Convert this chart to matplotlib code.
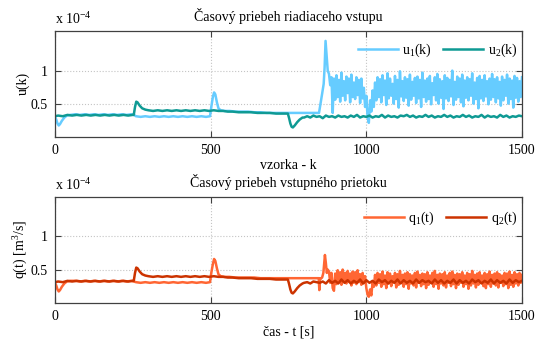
import numpy as np
import matplotlib
matplotlib.use("Agg")
import matplotlib.pyplot as plt

plt.rcParams["font.family"] = "Liberation Serif"
plt.rcParams["mathtext.fontset"] = "custom"
plt.rcParams["mathtext.rm"] = "Liberation Serif"
plt.rcParams["mathtext.it"] = "Liberation Serif:italic"
plt.rcParams["font.size"] = 10

# ---- riadiace vstupy u1, u2 (x 1e-4) ----
u1_k = [0, 4, 8, 12, 16, 22, 30, 38, 50, 65, 80, 95, 110, 125, 140, 155, 170, 185, 200, 215, 230, 245, 253,
        260, 275, 290, 305, 320, 335, 350, 365, 380, 395, 410, 425, 440, 455, 470, 485, 498,
        502, 507, 511, 515, 520, 525, 532, 545,
        560, 580, 600, 620, 640, 660, 680, 700, 720, 740, 760, 780, 800, 820, 840, 848,
        853, 858, 863, 866, 869, 872, 876]
u1_v = [0.30, 0.26, 0.20, 0.17, 0.19, 0.24, 0.29, 0.32, 0.33, 0.34, 0.33, 0.34, 0.33, 0.34, 0.33, 0.34, 0.33, 0.34, 0.33, 0.34, 0.33, 0.34, 0.33,
        0.31, 0.30, 0.31, 0.30, 0.31, 0.30, 0.31, 0.30, 0.31, 0.30, 0.31, 0.30, 0.31, 0.30, 0.31, 0.30, 0.31,
        0.45, 0.60, 0.67, 0.64, 0.52, 0.43, 0.40, 0.39,
        0.39, 0.38, 0.38, 0.38, 0.37, 0.37, 0.36, 0.36, 0.36, 0.36, 0.36, 0.36, 0.36, 0.36, 0.36, 0.36,
        0.50, 0.65, 0.80, 1.05, 1.45, 1.25, 1.00]
# zasumena cast u1, vzorky 880..1500 po 4
u1_noise = [0.95, 0.78, 0.90, 0.36, 0.88, 0.56, 0.93, 0.60, 0.86, 0.53,
            0.97, 0.62, 0.84, 0.55, 0.91, 0.66, 0.88, 0.52, 0.94, 0.60,
            0.82, 0.57, 0.90, 0.63, 0.86, 0.51, 0.88, 0.58, 0.74, 0.45,
            0.62, 0.30, 0.21, 0.55, 0.38, 0.70, 0.45,
            0.82, 0.55, 0.90, 0.60, 0.87, 0.52, 0.93, 0.63, 0.85, 0.48, 0.96, 0.58, 0.88, 0.62, 0.80, 0.50, 0.92, 0.57, 0.86, 0.44,
            0.99, 0.61, 0.84, 0.54, 0.90, 0.59, 0.87, 0.47, 0.94, 0.56, 0.83, 0.62, 0.89, 0.51, 0.91, 0.58, 0.86, 0.45, 0.97, 0.60,
            0.85, 0.53, 0.88, 0.57, 0.92, 0.49, 0.81, 0.63, 0.90, 0.55, 0.95, 0.50, 0.87, 0.59, 0.84, 0.42, 0.93, 0.58, 0.89, 0.54,
            0.86, 0.61, 1.00, 0.48, 0.83, 0.56, 0.91, 0.60, 0.88, 0.52, 0.94, 0.46, 0.85, 0.59, 0.90, 0.55, 0.87, 0.62, 0.96, 0.50,
            0.82, 0.57, 0.89, 0.43, 0.92, 0.58, 0.86, 0.54, 0.93, 0.61, 0.84, 0.49, 0.88, 0.56, 0.95, 0.60, 0.87, 0.52, 0.90, 0.58,
            0.83, 0.47, 0.91, 0.55, 0.86, 0.62, 0.94, 0.50, 0.88, 0.57, 0.85, 0.44, 0.92, 0.59, 0.89, 0.53, 0.84, 0.60, 0.90]

u2_k = [0, 10, 25, 40, 55, 70, 85, 100, 115, 130, 145, 160, 175, 190, 205, 220, 235, 250, 253,
        257, 261, 265, 272, 280, 290, 300,
        315, 330, 345, 360, 375, 390, 405, 420, 435, 450, 465, 480, 495, 510, 525, 540, 555, 570,
        590, 610, 630, 650, 670, 690, 710, 730, 748,
        752, 756, 760, 764, 770, 778, 786, 795]
u2_v = [0.31, 0.32, 0.31, 0.33, 0.32, 0.33, 0.32, 0.33, 0.32, 0.33, 0.32, 0.33, 0.32, 0.33, 0.32, 0.33, 0.32, 0.33, 0.33,
        0.45, 0.53, 0.52, 0.47, 0.43, 0.41, 0.40,
        0.39, 0.40, 0.39, 0.40, 0.39, 0.40, 0.39, 0.40, 0.39, 0.40, 0.39, 0.40, 0.39, 0.40, 0.39, 0.39, 0.38, 0.38,
        0.37, 0.37, 0.37, 0.36, 0.36, 0.36, 0.35, 0.35, 0.35,
        0.28, 0.20, 0.15, 0.14, 0.17, 0.22, 0.26, 0.29]
# u2, vzorky 800..1500 po 10
u2_noise = [0.29, 0.31, 0.29, 0.32, 0.30, 0.31, 0.28, 0.32, 0.30, 0.31,
            0.29, 0.32, 0.30, 0.31, 0.29, 0.32, 0.30, 0.33, 0.29, 0.31,
            0.30, 0.32, 0.29, 0.31, 0.30, 0.33, 0.29, 0.32, 0.30, 0.31,
            0.29, 0.32, 0.31, 0.33, 0.30, 0.32, 0.29, 0.31, 0.30, 0.33,
            0.30, 0.32, 0.29, 0.31, 0.30, 0.33, 0.30, 0.32, 0.29, 0.31,
            0.30, 0.33, 0.30, 0.32, 0.29, 0.31, 0.30, 0.33, 0.29, 0.32,
            0.30, 0.31, 0.29, 0.33, 0.30, 0.32, 0.29, 0.31, 0.30, 0.32, 0.31]

# ---- vstupne prietoky q1, q2 (x 1e-4 m3/s) ----
q1_k = [0, 4, 8, 12, 16, 22, 30, 38, 50, 65, 80, 95, 110, 125, 140, 155, 170, 185, 200, 215, 230, 245, 253,
        260, 275, 290, 305, 320, 335, 350, 365, 380, 395, 410, 425, 440, 455, 470, 485, 498,
        502, 507, 511, 515, 520, 525, 532, 545,
        560, 580, 600, 620, 640, 660, 680, 700, 720, 740, 760, 780, 800, 820, 840, 847,
        849, 851, 853, 858, 862, 865, 867, 870, 873, 876]
q1_v = [0.30, 0.26, 0.20, 0.17, 0.19, 0.24, 0.29, 0.32, 0.33, 0.33, 0.32, 0.33, 0.32, 0.33, 0.32, 0.33, 0.32, 0.33, 0.32, 0.33, 0.32, 0.33, 0.32,
        0.31, 0.30, 0.31, 0.30, 0.31, 0.30, 0.31, 0.30, 0.31, 0.30, 0.31, 0.30, 0.31, 0.30, 0.31, 0.30, 0.31,
        0.45, 0.58, 0.66, 0.63, 0.52, 0.43, 0.40, 0.39,
        0.39, 0.38, 0.38, 0.38, 0.38, 0.37, 0.37, 0.37, 0.37, 0.37, 0.37, 0.37, 0.37, 0.37, 0.37, 0.37,
        0.19, 0.37, 0.36, 0.38, 0.45, 0.62, 0.72, 0.60, 0.45, 0.50]
# zasumena cast q1, vzorky 880..1500 po 4
q1_noise = [0.47, 0.30, 0.45, 0.22, 0.18, 0.44, 0.28, 0.49, 0.31, 0.46,
            0.27, 0.50, 0.33, 0.45, 0.29, 0.48, 0.32, 0.44, 0.26, 0.47,
            0.30, 0.46, 0.28, 0.49, 0.31, 0.43, 0.27, 0.45, 0.30, 0.40,
            0.22, 0.12, 0.09, 0.20, 0.11, 0.30, 0.24,
            0.42, 0.26, 0.45, 0.30, 0.43, 0.24, 0.47, 0.28, 0.41, 0.22, 0.46, 0.29, 0.44, 0.25, 0.40, 0.31, 0.45, 0.23, 0.43, 0.27,
            0.48, 0.30, 0.42, 0.24, 0.44, 0.28, 0.46, 0.21, 0.43, 0.29, 0.41, 0.26, 0.45, 0.23, 0.47, 0.30, 0.42, 0.25, 0.44, 0.28,
            0.43, 0.22, 0.46, 0.27, 0.41, 0.30, 0.45, 0.24, 0.48, 0.28, 0.42, 0.21, 0.44, 0.29, 0.43, 0.26, 0.46, 0.23, 0.41, 0.30,
            0.45, 0.25, 0.47, 0.28, 0.42, 0.22, 0.44, 0.27, 0.43, 0.30, 0.46, 0.24, 0.41, 0.28, 0.45, 0.21, 0.43, 0.26, 0.48, 0.29,
            0.42, 0.23, 0.44, 0.27, 0.46, 0.30, 0.41, 0.25, 0.45, 0.22, 0.43, 0.28, 0.47, 0.24, 0.42, 0.29, 0.44, 0.26, 0.46, 0.23,
            0.43, 0.30, 0.41, 0.25, 0.45, 0.28, 0.44, 0.22, 0.47, 0.27, 0.42, 0.24, 0.46, 0.29, 0.43, 0.26, 0.45, 0.30, 0.42]

q2_k = u2_k
q2_v = [0.31, 0.32, 0.31, 0.33, 0.32, 0.33, 0.32, 0.33, 0.32, 0.33, 0.32, 0.33, 0.32, 0.33, 0.32, 0.33, 0.32, 0.33, 0.33,
        0.45, 0.53, 0.52, 0.47, 0.43, 0.41, 0.40,
        0.39, 0.40, 0.39, 0.40, 0.39, 0.40, 0.39, 0.40, 0.39, 0.40, 0.39, 0.40, 0.39, 0.40, 0.39, 0.39, 0.38, 0.38,
        0.37, 0.37, 0.37, 0.36, 0.36, 0.36, 0.35, 0.35, 0.35,
        0.28, 0.20, 0.15, 0.14, 0.17, 0.22, 0.26, 0.29]
# q2, vzorky 800..1500 po 10
q2_noise = [0.30, 0.31, 0.29, 0.32, 0.31, 0.30, 0.32, 0.29, 0.34, 0.30,
            0.33, 0.29, 0.35, 0.30, 0.34, 0.29, 0.33, 0.30, 0.35, 0.29,
            0.34, 0.30, 0.33, 0.29, 0.35, 0.31, 0.34, 0.29, 0.33, 0.30,
            0.35, 0.29, 0.34, 0.30, 0.33, 0.29, 0.35, 0.30, 0.34, 0.31,
            0.33, 0.29, 0.35, 0.30, 0.34, 0.29, 0.33, 0.30, 0.35, 0.29,
            0.34, 0.30, 0.33, 0.29, 0.35, 0.31, 0.34, 0.29, 0.33, 0.30,
            0.35, 0.29, 0.34, 0.30, 0.33, 0.29, 0.35, 0.30, 0.34, 0.31, 0.33]

k_fast = np.arange(880, 1501, 4)
k_slow = np.arange(800, 1501, 10)

u1_x = np.concatenate([u1_k, k_fast]); u1_y = np.concatenate([u1_v, u1_noise])
u2_x = np.concatenate([u2_k, k_slow]); u2_y = np.concatenate([u2_v, u2_noise])
q1_x = np.concatenate([q1_k, k_fast]); q1_y = np.concatenate([q1_v, q1_noise])
q2_x = np.concatenate([q2_k, k_slow]); q2_y = np.concatenate([q2_v, q2_noise])

fig = plt.figure(figsize=(5.41, 3.41), dpi=100)
ax1 = fig.add_axes([55 / 541, 1 - 136.7 / 341, 467 / 541, 105.7 / 341])
ax2 = fig.add_axes([55 / 541, 1 - 302.7 / 341, 467 / 541, 106 / 341])


def uprav(ax, titulok, xlab, ylab):
    ax.set_xlim(0, 1500)
    ax.set_ylim(0, 1.6)
    ax.set_xticks([0, 500, 1000, 1500])
    ax.set_yticks([0.5, 1])
    ax.set_yticklabels(["0.5", "1"])
    ax.grid(True, linestyle=":", color="#c4c4c4", linewidth=0.8)
    ax.set_axisbelow(True)
    ax.tick_params(direction="in", top=True, right=True, length=4, width=0.8,
                   color="#404040", labelsize=10, pad=5)
    for s in ax.spines.values():
        s.set_color("#404040")
        s.set_linewidth(0.9)
    ax.set_title(titulok, fontsize=10, pad=7)
    ax.set_xlabel(xlab, fontsize=10, labelpad=2)
    ax.set_ylabel(ylab, fontsize=10, labelpad=1)
    ax.annotate("x 10$^{-4}$", xy=(0, 1), xycoords="axes fraction", xytext=(0, 5),
                textcoords="offset points", ha="left", va="baseline", fontsize=10)


ax1.plot(u1_x, u1_y, color="#66CCFF", lw=1.8, label="u$_1$(k)")
ax1.plot(u2_x, u2_y, color="#0F9A94", lw=1.8, label="u$_2$(k)")
uprav(ax1, "Časový priebeh riadiaceho vstupu", "vzorka - k", "u(k)")
ax1.legend(loc="center right", bbox_to_anchor=(0.99, 0.82), ncol=2, frameon=False,
           handlelength=2.9, handletextpad=0.3, columnspacing=0.8, borderaxespad=0, borderpad=0)

ax2.plot(q1_x, q1_y, color="#FF6633", lw=1.8, label="q$_1$(t)")
ax2.plot(q2_x, q2_y, color="#CC3300", lw=1.8, label="q$_2$(t)")
uprav(ax2, "Časový priebeh vstupného prietoku", "čas - t [s]", "q(t) [m$^3$/s]")
ax2.legend(loc="center right", bbox_to_anchor=(0.99, 0.80), ncol=2, frameon=False,
           handlelength=2.9, handletextpad=0.3, columnspacing=0.8, borderaxespad=0, borderpad=0)

fig.savefig("out.png", dpi=100)
